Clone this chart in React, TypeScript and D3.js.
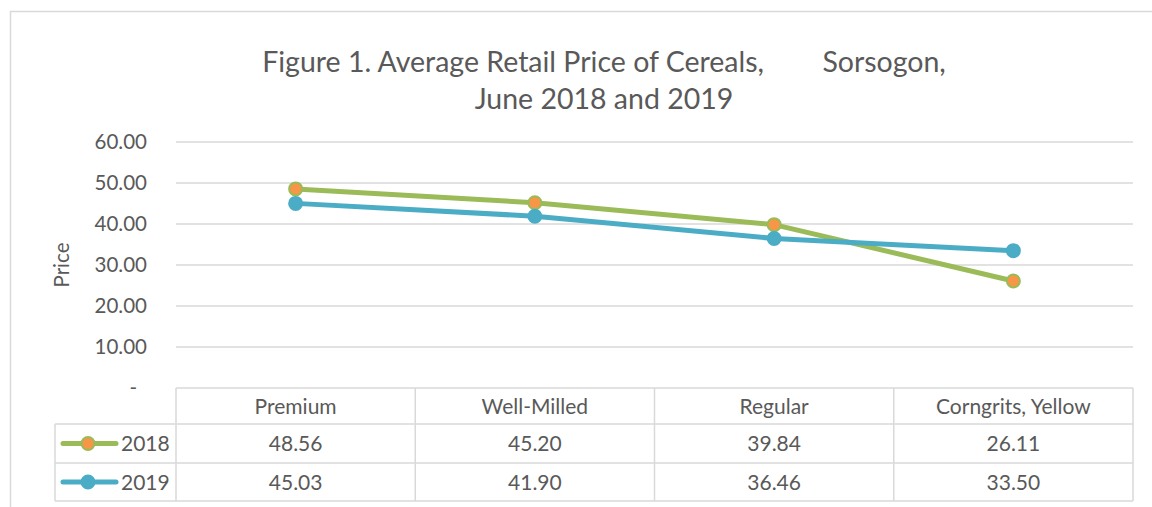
import * as d3 from 'd3';

const categories = ['Premium', 'Well-Milled', 'Regular', 'Corngrits, Yellow'];
const series2018 = [48.56, 45.2, 39.84, 26.11];
const series2019 = [45.03, 41.9, 36.46, 33.5];
const yTicks = [0, 10, 20, 30, 40, 50, 60];
const titleLines = ['Figure 1. Average Retail Price of Cereals,        Sorsogon,', 'June 2018 and 2019'];

const W = 1152;
const H = 507;
const FONT = 'Lato, "Open Sans", sans-serif';
const TEXT = '#595959';
const GRID = '#d9d9d9';

const seriesList = [
  { name: '2018', values: series2018, line: '#9bbb59', fill: '#f79646' },
  { name: '2019', values: series2019, line: '#4bacc6', fill: '#4bacc6' },
];

export default function App() {
  const plotLeft = 176;
  const plotRight = 1133;
  const x = d3.scaleBand().domain(categories).range([plotLeft, plotRight]);
  const y = d3.scaleLinear().domain([0, 60]).range([388, 142]);
  const line = d3.line<number>()
    .x((_, i) => x(categories[i])! + x.bandwidth() / 2)
    .y(d => y(d));

  const tableTop = y(0);
  const rowH = [36, 39, 38];
  const rowY = [tableTop, tableTop + rowH[0], tableTop + rowH[0] + rowH[1], tableTop + rowH[0] + rowH[1] + rowH[2]];
  const legendLeft = 55;

  return (
    <div style={{ position: 'fixed', left: 0, top: 0 }}>
      <svg width={W} height={H} style={{ display: 'block', fontFamily: FONT }}>
        <rect x={0} y={0} width={W} height={H} fill="#fff" />
        <rect x={10.5} y={11.5} width={W + 20} height={H + 20} fill="none" stroke={GRID} strokeWidth={1.5} />

        {/* title */}
        {titleLines.map((t, i) => (
          <text key={i} x={604} y={72 + i * 37} textAnchor="middle" fontSize={28.5} fill={TEXT} style={{ whiteSpace: 'pre' }}>
            {t}
          </text>
        ))}

        {/* grid + ticks */}
        {yTicks.map(t => (
          <g key={t}>
            {t > 0 && <line x1={plotLeft} x2={plotRight} y1={y(t)} y2={y(t)} stroke={GRID} strokeWidth={1.5} />}
            <text x={t === 0 ? 137 : 147} y={y(t)} dy="0.36em" textAnchor="end" fontSize={20.5} fill={TEXT}>
              {t === 0 ? '-' : d3.format('.2f')(t)}
            </text>
          </g>
        ))}

        <text transform={`translate(69,265) rotate(-90)`} textAnchor="middle" fontSize={20.5} fill={TEXT}>Price</text>

        {/* series lines */}
        {seriesList.map(s => (
          <g key={s.name}>
            <path d={line(s.values) ?? ''} fill="none" stroke={s.line} strokeWidth={5} strokeLinejoin="round" strokeLinecap="round" />
            {s.values.map((v, i) => (
              <circle key={i} cx={x(categories[i])! + x.bandwidth() / 2} cy={y(v)} r={6.5} fill={s.fill} stroke={s.line} strokeWidth={2} />
            ))}
          </g>
        ))}

        {/* data table */}
        <g stroke={GRID} strokeWidth={1.5}>
          <line x1={plotLeft} x2={plotRight} y1={rowY[0]} y2={rowY[0]} />
          {rowY.slice(1).map((ry, i) => (
            <line key={i} x1={legendLeft} x2={plotRight} y1={ry} y2={ry} />
          ))}
          <line x1={legendLeft} x2={legendLeft} y1={rowY[1]} y2={rowY[3]} />
          {categories.map(c => (
            <line key={c} x1={x(c)} x2={x(c)} y1={rowY[0]} y2={rowY[3]} />
          ))}
          <line x1={plotRight} x2={plotRight} y1={rowY[0]} y2={rowY[3]} />
        </g>
        {categories.map(c => (
          <text key={c} x={x(c)! + x.bandwidth() / 2} y={(rowY[0] + rowY[1]) / 2} dy="0.36em" textAnchor="middle" fontSize={21} fill={TEXT}>{c}</text>
        ))}
        {seriesList.map((s, r) => {
          const cy = (rowY[r + 1] + rowY[r + 2]) / 2;
          return (
            <g key={s.name}>
              <line x1={63} x2={116} y1={cy} y2={cy} stroke={s.line} strokeWidth={5} strokeLinecap="round" />
              <circle cx={88} cy={cy} r={6.5} fill={s.fill} stroke={s.line} strokeWidth={2} />
              <text x={121} y={cy} dy="0.36em" fontSize={21} fill={TEXT}>{s.name}</text>
              {s.values.map((v, i) => (
                <text key={i} x={x(categories[i])! + x.bandwidth() / 2} y={cy} dy="0.36em" textAnchor="middle" fontSize={21} fill={TEXT}>
                  {d3.format('.2f')(v)}
                </text>
              ))}
            </g>
          );
        })}
      </svg>
    </div>
  );
}
